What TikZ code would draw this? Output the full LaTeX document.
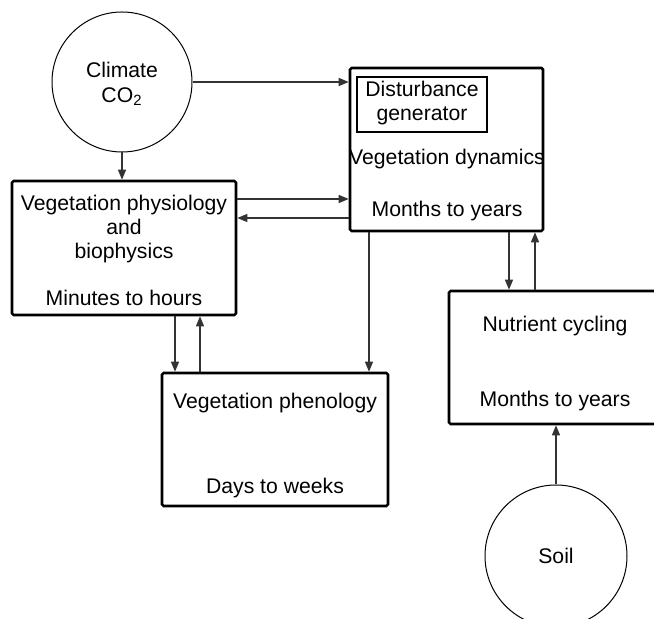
\documentclass[tikz,border=0pt]{standalone}
\usepackage{fontspec}
\setmainfont{Liberation Sans}
\usetikzlibrary{arrows.meta}

\tikzset{
  blk/.style={draw,line width=1.3pt,rounded corners=0.8pt,inner sep=0pt},
  ring/.style={draw,circle,line width=0.5pt,inner sep=0pt},
  lbl/.style={align=center,inner sep=0pt,font=\fontsize{10.6pt}{11.8pt}\selectfont},
  arr/.style={-{Triangle[length=5pt,width=4pt]},line width=0.6pt,draw=black!80}
}

\begin{document}
\begin{tikzpicture}[x=0.5pt,y=-0.5pt]
 \useasboundingbox (0,0) rectangle (654,619);
 \clip (0,0) rectangle (654,619);
 % circles
 \node[ring,minimum size=70pt] (clim) at (122,82) {};
 \node[ring,minimum size=71pt] (soil) at (556,556) {};
 % boxes
 \node[blk,minimum width=112pt,minimum height=67pt] (phys) at (124,248) {};
 \node[blk,minimum width=96.5pt,minimum height=81.5pt] (dyn) at (446.5,149.5) {};
 \node[blk,line width=1pt,rounded corners=0pt,minimum width=65pt,minimum height=27.5pt] (dist) at (422,104.5) {};
 \node[blk,minimum width=113pt,minimum height=66.5pt] (phen) at (275,439.5) {};
 \node[blk,minimum width=106pt,minimum height=66.5pt] (nutr) at (555,357.5) {};
 % texts
 \node[lbl,font=\fontsize{10.6pt}{12.5pt}\selectfont] (climtxt) at (122,84) {Climate\\CO\textsubscript{2}};
 \node[lbl] (soiltxt) at (556,556) {Soil};
 \node[lbl] (disttxt) at (422,103) {Disturbance\\generator};
 \node[lbl] (dyntxt) at (447,159) {Vegetation dynamics};
 \node[lbl] (dynts) at (447,211) {Months to years};
 \node[lbl] (phystxt) at (124,229) {Vegetation physiology\\and\\biophysics};
 \node[lbl] (physts) at (124,298) {Minutes to hours};
 \node[lbl] (phentxt) at (275,403) {Vegetation phenology};
 \node[lbl] (phents) at (275,488) {Days to weeks};
 \node[lbl] (nutrtxt) at (555,326) {Nutrient cycling};
 \node[lbl] (nutrts) at (555,401) {Months to years};
 % connectors
 \draw[arr] (clim.east) -- (dyn.west |- clim.east);
 \draw[arr] (clim.south) -- (phys.north -| clim.south);
 \draw[arr] (phys.east |- 0,199) -- (dyn.west |- 0,199);
 \draw[arr] (dyn.west |- 0,218) -- (phys.east |- 0,218);
 \draw[arr] (phys.south -| 175,0) -- (phen.north -| 175,0);
 \draw[arr] (phen.north -| 200,0) -- (phys.south -| 200,0);
 \draw[arr] (dyn.south -| 369,0) -- (phen.north -| 369,0);
 \draw[arr] (dyn.south -| 509,0) -- (nutr.north -| 509,0);
 \draw[arr] (nutr.north -| 535,0) -- (dyn.south -| 535,0);
 \draw[arr] (soil.north) -- (nutr.south -| soil.north);
\end{tikzpicture}
\end{document}
